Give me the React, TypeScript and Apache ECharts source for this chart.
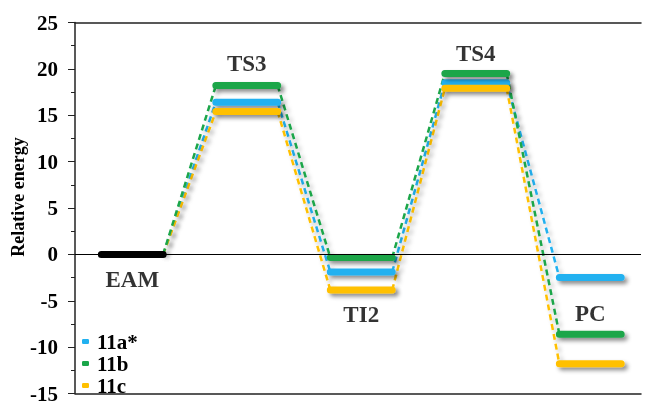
import React, { useEffect, useRef } from "react";
import * as echarts from "echarts";

const stages = ["EAM", "TS3", "TI2", "TS4", "PC"];
const eamLevel = [0];
const s11a = [0, 16.4, -1.9, 18.5, -2.5];
const s11b = [0, 18.2, -0.35, 19.5, -8.6];
const s11c = [0, 15.4, -3.85, 17.9, -11.8];
const seriesNames = ["11a*", "11b", "11c"];
const colors = ["#21b1f0", "#1aa64a", "#ffc000"];
const labelY = [-2.7, 20.6, -6.5, 21.7, -6.4];
const yTicks = { min: -15, max: 25, interval: 5 };

const HW = 0.27;
const FONT = "'Liberation Serif', 'Times New Roman', serif";

function levelData(vals: number[]) {
  const out: any[] = [];
  for (let i = 1; i < vals.length; i++) {
    out.push([i - HW, vals[i]], [i + HW, vals[i]], [i + 0.5, "-"]);
  }
  return out;
}
function connData(vals: number[]) {
  const out: any[] = [];
  for (let i = 0; i < vals.length - 1; i++) {
    out.push([i + HW, vals[i]], [i + 1 - HW, vals[i + 1]], [i + 1, "-"]);
  }
  return out;
}

export default function App() {
  const ref = useRef<HTMLDivElement>(null);
  useEffect(() => {
    document.body.style.margin = "0";
    const chart = echarts.init(ref.current!, null, { renderer: "svg" });
    const shadow = {
      shadowColor: "rgba(0,0,0,0.45)",
      shadowBlur: 4,
      shadowOffsetX: 3,
      shadowOffsetY: 3,
    };
    const all = [s11a, s11b, s11c];
    const order = [0, 2, 1];
    const series: any[] = [];
    series.push({
      name: "zero",
      type: "line",
      data: [],
      symbol: "none",
      markLine: {
        silent: true,
        symbol: "none",
        label: { show: false },
        lineStyle: { color: "#000", width: 1, type: "solid" },
        data: [{ yAxis: 0 }],
      },
      z: 1,
    });
    order.forEach((k) => {
      series.push({
        name: seriesNames[k] + " conn",
        type: "line",
        data: connData(all[k]),
        symbol: "none",
        lineStyle: { color: colors[k], width: 2.5, type: [6, 4], ...shadow, shadowColor: "rgba(0,0,0,0.25)" },
        z: 2,
      });
    });
    order.forEach((k) => {
      series.push({
        name: seriesNames[k],
        type: "line",
        data: levelData(all[k]),
        symbol: "none",
        itemStyle: { color: colors[k] },
        lineStyle: { color: colors[k], width: 7, cap: "round", ...shadow },
        z: 3,
      });
    });
    series.push({
      name: "EAM level",
      type: "line",
      data: [
        [0 - HW, eamLevel[0]],
        [0 + HW, eamLevel[0]],
      ],
      symbol: "none",
      itemStyle: { color: "#000" },
      lineStyle: { color: "#000", width: 7, cap: "round" },
      z: 3,
    });
    series.push({
      name: "labels",
      type: "scatter",
      symbolSize: 0,
      data: stages.map((s, i) => [i, labelY[i]]),
      label: {
        show: true,
        position: "inside",
        formatter: (p: any) => stages[p.dataIndex],
        fontFamily: FONT,
        fontWeight: "bold",
        fontSize: 23,
        color: "#000",
      },
      z: 5,
    });

    chart.setOption({
      animation: false,
      grid: { left: 75, right: 4, top: 22.5, bottom: 7 },
      xAxis: [
        {
          type: "value",
          min: -0.5,
          max: 4.443,
          position: "bottom",
          axisLine: { onZero: false, lineStyle: { color: "#222", width: 1.5 } },
          axisTick: { show: false },
          axisLabel: { show: false },
          splitLine: { show: false },
        },
        {
          type: "value",
          min: -0.5,
          max: 4.443,
          position: "top",
          axisLine: { onZero: false, lineStyle: { color: "#222", width: 1.5 } },
          axisTick: { show: false },
          axisLabel: { show: false },
          splitLine: { show: false },
        },
      ],
      yAxis: {
        type: "value",
        min: yTicks.min,
        max: yTicks.max,
        interval: yTicks.interval,
        axisLine: { show: true, onZero: false, lineStyle: { color: "#222", width: 1.5 } },
        axisTick: { show: true, length: 7, lineStyle: { color: "#222" } },
        minorTick: { show: true, splitNumber: 2, length: 4, lineStyle: { color: "#222" } },
        splitLine: { show: false },
        axisLabel: {
          margin: 17,
          fontFamily: FONT,
          fontWeight: "bold",
          fontSize: 21,
          color: "#000",
        },
      },
      legend: {
        data: seriesNames,
        orient: "vertical",
        left: 82,
        top: 331,
        padding: 0,
        itemGap: 1,
        itemWidth: 7,
        itemHeight: 5,
        icon: "roundRect",
        textStyle: {
          fontFamily: FONT,
          fontWeight: "bold",
          fontSize: 21,
          color: "#000",
          padding: [0, 0, 0, 3],
        },
      },
      graphic: [
        {
          type: "text",
          x: 18,
          y: 197,
          rotation: Math.PI / 2,
          style: {
            text: "Relative energy",
            fontFamily: FONT,
            fontWeight: "bold",
            fontSize: 18,
            fill: "#000",
            align: "center",
            verticalAlign: "middle",
          },
        },
      ],
      series,
    });
    return () => chart.dispose();
  }, []);
  return (
    <div
      ref={ref}
      style={{ position: "fixed", left: 0, top: 0, width: 645, height: 404 }}
    />
  );
}
